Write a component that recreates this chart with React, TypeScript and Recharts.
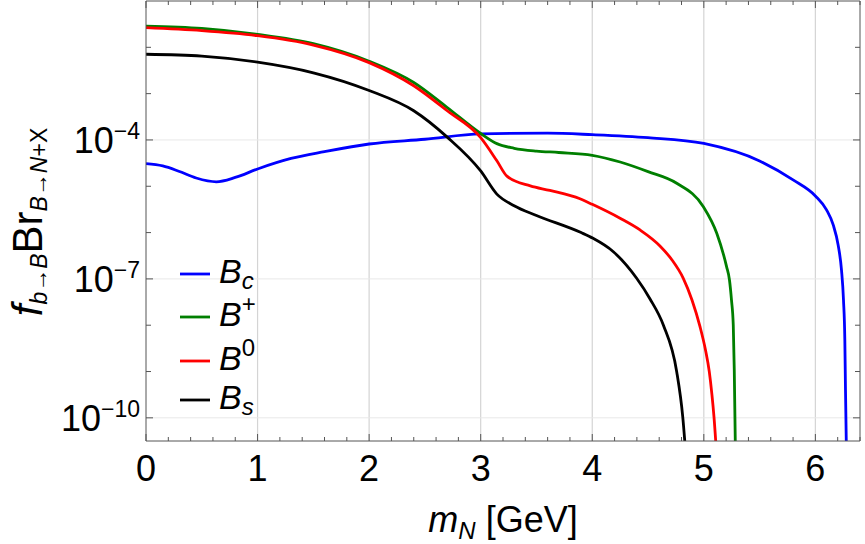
import { LineChart, Line, XAxis, YAxis, ReferenceLine, Legend } from "recharts";

const FONT = "'Liberation Sans', Arial, Helvetica, sans-serif";
const FRAME = "#555555";

// m_N [GeV] sample points and f_{b->B} * Br values
const bcMass = [0, 0.15, 0.3, 0.45, 0.63, 0.8, 1.0, 1.3, 1.6, 2.0, 2.5, 3.0, 3.6, 4.0, 4.5, 5.0, 5.5, 5.8, 6.0, 6.1, 6.16, 6.204, 6.234, 6.252, 6.264, 6.27, 6.28];
const bcRate = [3.07e-5, 2.74e-5, 2.08e-5, 1.51e-5, 1.25e-5, 1.55e-5, 2.36e-5, 3.98e-5, 5.58e-5, 8.18e-5, 1.035e-4, 1.35e-4, 1.4e-4, 1.3e-4, 1.12e-4, 8.4e-5, 3.52e-5, 1.37e-5, 6.17e-6, 3.09e-6, 1.46e-6, 5.4e-7, 1.56e-7, 3.51e-8, 4.79e-9, 3.98e-10, 1e-11];

const bPlusMass = [0, 0.5, 1, 1.5, 2, 2.4, 2.7, 3.0, 3.145, 3.3, 3.5, 3.7, 4.0, 4.25, 4.5, 4.757, 4.996, 5.116, 5.204, 5.23, 5.248, 5.264, 5.273, 5.285];
const bPlusRate = [2.88e-2, 2.57e-2, 1.91e-2, 1.2e-2, 5.01e-3, 1.74e-3, 5.01e-4, 1.38e-4, 8.32e-5, 6.61e-5, 5.75e-5, 5.36e-5, 4.67e-5, 3.34e-5, 2.07e-5, 1.16e-5, 3.62e-6, 9.66e-7, 1.84e-7, 9.48e-8, 3.51e-8, 1.01e-8, 1.08e-9, 1e-11];

const bZeroMass = [0, 0.5, 1, 1.5, 2, 2.4, 2.7, 3.0, 3.145, 3.235, 3.445, 3.62, 3.89, 4.0, 4.249, 4.428, 4.607, 4.715, 4.816, 4.894, 4.966, 5.015, 5.049, 5.073, 5.091, 5.12];
const bZeroRate = [2.65e-2, 2.29e-2, 1.78e-2, 1.12e-2, 4.68e-3, 1.48e-3, 4.27e-4, 1.12e-4, 3.55e-5, 1.66e-5, 1.02e-5, 8.13e-6, 5.37e-6, 4.07e-6, 2.04e-6, 1.14e-6, 5.14e-7, 2.56e-7, 1.03e-7, 3.51e-8, 9.29e-9, 2.92e-9, 9.93e-10, 3.12e-10, 1.06e-10, 1e-11];

const bsMass = [0, 0.5, 1, 1.5, 2, 2.4, 2.7, 3.0, 3.145, 3.3, 3.5, 3.9, 4.007, 4.189, 4.398, 4.518, 4.637, 4.757, 4.811, 4.845];
const bsRate = [7.08e-3, 6.46e-3, 4.79e-3, 2.82e-3, 1.17e-3, 4.27e-4, 1.15e-4, 2.14e-5, 6.76e-6, 3.8e-6, 2.34e-6, 1e-6, 7.53e-7, 3.87e-7, 1.03e-7, 3.69e-8, 1.01e-8, 9.93e-10, 1.06e-10, 1e-11];

const seriesNames = ["Bc", "B+", "B0", "Bs"];
const seriesColors = ["#0000ff", "#007f00", "#ff0000", "#000000"];
const seriesLabels = [
  { sub: "c", sup: "" },
  { sub: "", sup: "+" },
  { sub: "", sup: "0" },
  { sub: "s", sup: "" },
];

const xMajor = [0, 1, 2, 3, 4, 5, 6];
const xTicks = Array.from({ length: 33 }, (_, i) => Number((i * 0.2).toFixed(1)));
const yTicks = [1e-10, 1e-9, 1e-8, 1e-7, 1e-6, 1e-5, 1e-4, 1e-3, 1e-2];
const yLabelled = [1e-10, 1e-7, 1e-4];
const yExponents = ["\u221210", "\u22127", "\u22124"];
const xGrid = [1, 2, 3, 4, 5, 6];
const yGrid = [1e-10, 1e-7, 1e-4];

const zip = (ms: number[], vs: number[]) => ms.map((m, i) => ({ m, v: vs[i] }));
const seriesData = [zip(bcMass, bcRate), zip(bPlusMass, bPlusRate), zip(bZeroMass, bZeroRate), zip(bsMass, bsRate)];

const W = 865;
const H = 544;
const MARGIN = { top: 1, right: 5, bottom: 0, left: 0 };
const PLOT_TOP = MARGIN.top;
const PLOT_RIGHT = W - MARGIN.right;

function XTick(props: any) {
  const { x, y, payload } = props;
  const v = payload.value;
  const major = xMajor.includes(v);
  const len = major ? 7 : 4;
  return (
    <g>
      <line x1={x} x2={x} y1={y} y2={y - len} stroke={FRAME} />
      <line x1={x} x2={x} y1={PLOT_TOP} y2={PLOT_TOP + len} stroke={FRAME} />
      {major && (
        <text x={x} y={y + 40} textAnchor="middle" fontFamily={FONT} fontSize={36} fill="#000">
          {v}
        </text>
      )}
    </g>
  );
}

function YTick(props: any) {
  const { x, y, payload } = props;
  const idx = yLabelled.findIndex((t) => Math.abs(Math.log10(t) - Math.log10(payload.value)) < 1e-6);
  const len = idx >= 0 ? 7 : 5;
  return (
    <g>
      <line x1={x} x2={x + len} y1={y} y2={y} stroke={FRAME} />
      <line x1={PLOT_RIGHT - len} x2={PLOT_RIGHT} y1={y} y2={y} stroke={FRAME} />
      {idx >= 0 && (
        <text x={x - 6} y={y + 13} textAnchor="end" fontFamily={FONT} fill="#000">
          <tspan fontSize={36}>10</tspan>
          <tspan fontSize={23} dy={-14}>{yExponents[idx]}</tspan>
        </text>
      )}
    </g>
  );
}

function XTitle(props: any) {
  const { viewBox } = props;
  const cx = viewBox.x + viewBox.width / 2;
  const cy = viewBox.y + 91;
  return (
    <text x={cx} y={cy} textAnchor="middle" fontFamily={FONT} fontSize={36} fill="#000">
      <tspan fontStyle="italic">m</tspan>
      <tspan fontStyle="italic" fontSize={24} dy={7}>N</tspan>
      <tspan dy={-7}> [GeV]</tspan>
    </text>
  );
}

function YTitle(props: any) {
  const { viewBox } = props;
  const cx = viewBox.x + 42;
  const cy = viewBox.y + viewBox.height / 2 + 1;
  return (
    <text
      x={cx}
      y={cy}
      transform={`rotate(-90 ${cx} ${cy})`}
      textAnchor="middle"
      fontFamily={FONT}
      fontSize={42}
      fill="#000"
    >
      <tspan fontStyle="italic">f</tspan>
      <tspan fontSize={23} dy={5}>
        <tspan fontStyle="italic">b</tspan>→<tspan fontStyle="italic">B</tspan>
      </tspan>
      <tspan dy={-5}>Br</tspan>
      <tspan fontSize={23} dy={5}>
        <tspan fontStyle="italic">B</tspan>→<tspan fontStyle="italic">N</tspan>+X
      </tspan>
    </text>
  );
}

// legend rows: line segment plus B with sub/superscript
const rowY = [24, 67, 111, 150];

function LegendBox(props: any) {
  const payload = props.payload || [];
  return (
    <svg width={130} height={180} style={{ overflow: "visible" }}>
      {payload.map((item: any) => {
        const k = seriesNames.indexOf(item.value);
        const lab = seriesLabels[k];
        const y = rowY[k];
        return (
          <g key={item.value}>
            <line x1={10} x2={40} y1={y} y2={y} stroke={item.color} strokeWidth={2.8} />
            <text x={49} y={y + 9} fontFamily={FONT} fontSize={34} fill="#000">
              <tspan fontStyle="italic">B</tspan>
              {lab.sub && (
                <tspan fontStyle="italic" fontSize={24} dy={6}>
                  {lab.sub}
                </tspan>
              )}
              {lab.sup && (
                <tspan fontSize={24} dy={-14}>
                  {lab.sup}
                </tspan>
              )}
            </text>
          </g>
        );
      })}
    </svg>
  );
}

export default function App() {
  return (
    <div style={{ position: "absolute", left: 0, top: 0, background: "#fff" }}>
      <LineChart width={W} height={H} margin={MARGIN}>
        {xGrid.map((v) => (
          <ReferenceLine key={`gx${v}`} x={v} stroke="#d4d4d4" strokeWidth={1.2} />
        ))}
        {yGrid.map((v) => (
          <ReferenceLine key={`gy${v}`} y={v} stroke="#e8e8e8" strokeWidth={1} />
        ))}
        <XAxis
          dataKey="m"
          type="number"
          domain={[0, 6.4]}
          allowDataOverflow
          ticks={xTicks}
          interval={0}
          height={103}
          tickSize={0}
          tickMargin={0}
          tickLine={false}
          axisLine={{ stroke: FRAME }}
          tick={<XTick />}
          label={<XTitle />}
        />
        <YAxis
          dataKey="v"
          type="number"
          scale="log"
          domain={[Math.pow(10, -10.5), 0.1]}
          allowDataOverflow
          ticks={yTicks}
          interval={0}
          width={146}
          tickSize={0}
          tickMargin={0}
          tickLine={false}
          axisLine={{ stroke: FRAME }}
          tick={<YTick />}
          label={<YTitle />}
        />
        <ReferenceLine y={0.1} stroke={FRAME} />
        <ReferenceLine x={6.4} stroke={FRAME} />
        {seriesData.map((d, i) => (
          <Line
            key={seriesNames[i]}
            data={d}
            dataKey="v"
            name={seriesNames[i]}
            type="monotone"
            stroke={seriesColors[i]}
            strokeWidth={2.8}
            dot={false}
            isAnimationActive={false}
          />
        ))}
        <Legend
          layout="horizontal"
          verticalAlign="middle"
          align="center"
          content={(p: any) => <LegendBox payload={p.payload} />}
          wrapperStyle={{ left: 170, top: 250, width: 130, height: 180 }}
        />
      </LineChart>
    </div>
  );
}
